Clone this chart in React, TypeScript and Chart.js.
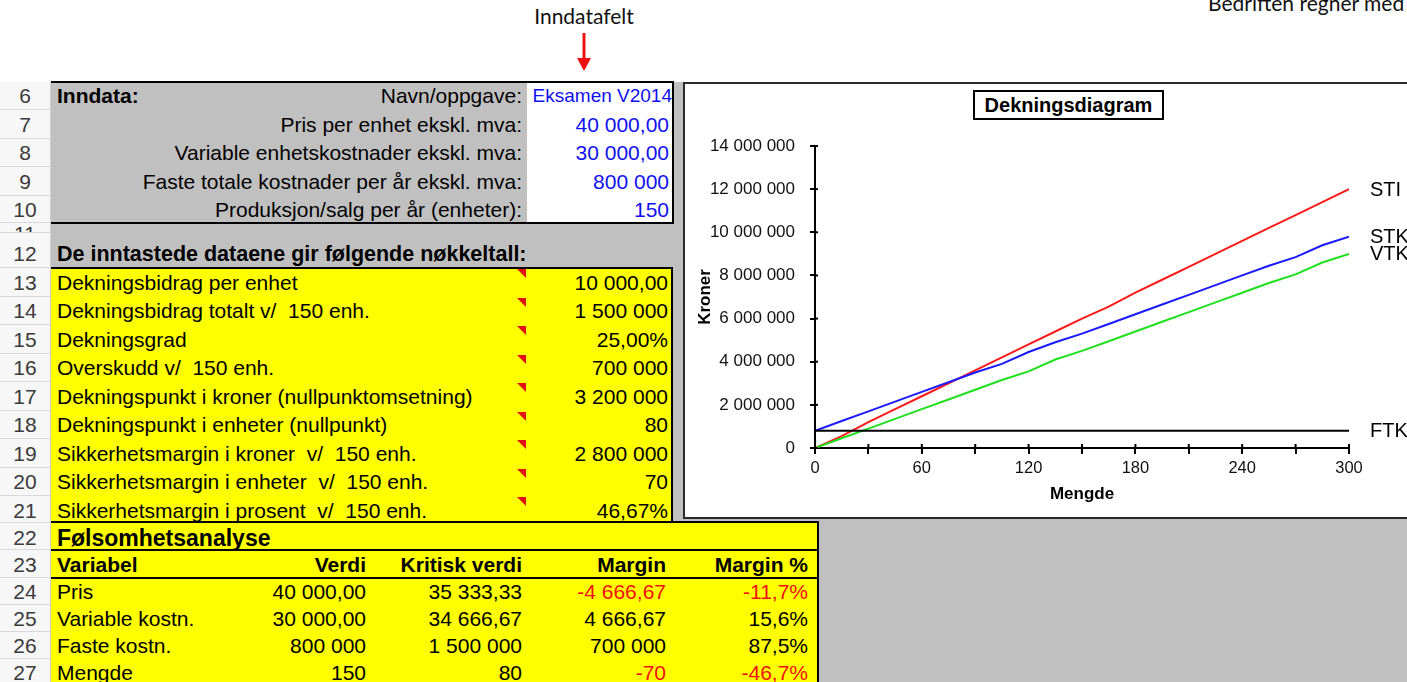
import React, { useEffect, useRef } from 'react';
import { Chart, registerables } from 'chart.js';

Chart.register(...registerables);

// ---------- Chart data ----------
const mengde = [0, 15, 30, 45, 60, 75, 90, 105, 120, 135, 150, 165, 180, 195, 210, 225, 240, 255, 270, 285, 300];
const sti = [0, 550000, 1200000, 1800000, 2400000, 3000000, 3600000, 4200000, 4800000, 5400000, 6000000, 6550000, 7200000, 7800000, 8400000, 9000000, 9600000, 10200000, 10800000, 11400000, 12000000];
const stk = [800000, 1250000, 1700000, 2150000, 2600000, 3050000, 3500000, 3900000, 4450000, 4900000, 5300000, 5750000, 6200000, 6650000, 7100000, 7550000, 8000000, 8450000, 8850000, 9400000, 9800000];
const vtk = [0, 450000, 900000, 1350000, 1800000, 2250000, 2700000, 3150000, 3550000, 4100000, 4500000, 4950000, 5400000, 5850000, 6300000, 6750000, 7200000, 7650000, 8050000, 8600000, 9000000];
const ftkMengde = [0, 300];
const ftk = [800000, 800000];
const seriesNames = ['FTK', 'VTK', 'STK', 'STI'];
const seriesColors = ['#000000', '#1fe01f', '#1a1aff', '#ff1a1a'];
const chartTitle = 'Dekningsdiagram';
const xTitle = 'Mengde';
const yTitle = 'Kroner';
const xMin = 0, xMax = 300, xStep = 30, xLabelEvery = 60;
const yMin = 0, yMax = 14000000, yStep = 2000000;

// ---------- Spreadsheet data ----------
const inputLabels = ['Navn/oppgave:', 'Pris per enhet ekskl. mva:', 'Variable enhetskostnader ekskl. mva:', 'Faste totale kostnader per år ekskl. mva:', 'Produksjon/salg per år (enheter):'];
const inputValues = ['Eksamen V2014', '40 000,00', '30 000,00', '800 000', '150'];
const keyHeading = 'De inntastede dataene gir følgende nøkkeltall:';
const keyLabels = ['Dekningsbidrag per enhet', 'Dekningsbidrag totalt v/  150 enh.', 'Dekningsgrad', 'Overskudd v/  150 enh.', 'Dekningspunkt i kroner (nullpunktomsetning)', 'Dekningspunkt i enheter (nullpunkt)', 'Sikkerhetsmargin i kroner  v/  150 enh.', 'Sikkerhetsmargin i enheter  v/  150 enh.', 'Sikkerhetsmargin i prosent  v/  150 enh.'];
const keyValues = ['10 000,00', '1 500 000', '25,00%', '700 000', '3 200 000', '80', '2 800 000', '70', '46,67%'];
const sensTitle = 'Følsomhetsanalyse';
const sensHeaders = ['Variabel', 'Verdi', 'Kritisk verdi', 'Margin', 'Margin %'];
const sensRows = [
  ['Pris', '40 000,00', '35 333,33', '-4 666,67', '-11,7%'],
  ['Variable kostn.', '30 000,00', '34 666,67', '4 666,67', '15,6%'],
  ['Faste kostn.', '800 000', '1 500 000', '700 000', '87,5%'],
  ['Mengde', '150', '80', '-70', '-46,7%'],
];
const rowNumbers = [6, 7, 8, 9, 10, 11, 12, 13, 14, 15, 16, 17, 18, 19, 20, 21, 22, 23, 24, 25, 26, 27];

const FONT = "'Liberation Sans', Arial, Helvetica, sans-serif";
const CAL = "Lato, 'Open Sans', sans-serif";

// layout geometry (positions only)
const rowGeom: Record<number, [number, number, number]> = {
  6: [82, 110, 96], 7: [110, 139, 125], 8: [139, 167, 153], 9: [167, 196, 182], 10: [196, 223, 210],
  11: [223, 233, 234], 12: [233, 268, 254], 13: [268, 297, 283], 14: [297, 325, 311], 15: [325, 354, 340],
  16: [354, 382, 368], 17: [382, 411, 397], 18: [411, 439, 425], 19: [439, 468, 454], 20: [468, 496, 482],
  21: [496, 523, 511], 22: [523, 550, 538], 23: [550, 578, 565], 24: [578, 605, 592], 25: [605, 632, 619],
  26: [632, 659, 646], 27: [659, 686, 673],
};

function fmtThousands(v: number): string {
  return String(Math.round(v)).replace(/\B(?=(\d{3})+(?!\d))/g, ' ');
}

type TextProps = { c: number; left?: number; right?: number; w?: number; bold?: boolean; color?: string; size?: number; children: React.ReactNode };
function T({ c, left, right, w = 500, bold, color = '#000', size = 21, children }: TextProps) {
  const style: React.CSSProperties = {
    position: 'absolute', top: c - 15, height: 30, lineHeight: '30px', whiteSpace: 'pre',
    fontFamily: FONT, fontSize: size, fontWeight: bold ? 'bold' : 'normal', color, width: w,
  };
  if (right !== undefined) { style.left = right - w; style.textAlign = 'right'; }
  else { style.left = left; style.textAlign = 'left'; }
  return <div style={style}>{children}</div>;
}

function Box({ x, y, w, h, bg, style }: { x: number; y: number; w: number; h: number; bg?: string; style?: React.CSSProperties }) {
  return <div style={{ position: 'absolute', left: x, top: y, width: w, height: h, background: bg, boxSizing: 'border-box', ...style }} />;
}

function DekningsChart() {
  const ref = useRef<HTMLCanvasElement | null>(null);
  useEffect(() => {
    if (!ref.current) return;
    const pts = (xs: number[], ys: number[]) => xs.map((x, i) => ({ x, y: ys[i] }));
    const seriesData = [pts(ftkMengde, ftk), pts(mengde, vtk), pts(mengde, stk), pts(mengde, sti)];
    const endLabels = {
      id: 'endLabels',
      afterDatasetsDraw(chart: any) {
        const ctx = chart.ctx;
        ctx.save();
        ctx.font = `20px ${FONT}`;
        ctx.fillStyle = '#000';
        ctx.textBaseline = 'middle';
        ctx.textAlign = 'left';
        chart.data.datasets.forEach((ds: any, i: number) => {
          const meta = chart.getDatasetMeta(i);
          const p = meta.data[meta.data.length - 1];
          if (p) ctx.fillText(ds.label, p.x + 21, p.y + 1);
        });
        ctx.restore();
      },
    };
    const crossTicks = {
      id: 'crossTicks',
      afterDraw(chart: any) {
        const { ctx } = chart;
        const xs = chart.scales.x, ys = chart.scales.y;
        ctx.save();
        ctx.strokeStyle = '#000';
        ctx.lineWidth = 2;
        xs.ticks.forEach((t: any) => {
          const px = xs.getPixelForValue(t.value);
          ctx.beginPath(); ctx.moveTo(px, ys.bottom); ctx.lineTo(px, ys.bottom - 4); ctx.stroke();
        });
        ys.ticks.forEach((t: any) => {
          const py = ys.getPixelForValue(t.value);
          ctx.beginPath(); ctx.moveTo(xs.left, py); ctx.lineTo(xs.left + 3, py); ctx.stroke();
        });
        ctx.restore();
      },
    };
    const chart = new Chart(ref.current, {
      type: 'line',
      data: {
        datasets: seriesData.map((d, i) => ({
          label: seriesNames[i], data: d, borderColor: seriesColors[i], backgroundColor: seriesColors[i],
          borderWidth: 2, pointRadius: 0, tension: 0, fill: false,
        })),
      },
      options: {
        animation: false, responsive: false, maintainAspectRatio: false, events: [],
        layout: { padding: { top: 62, right: 76, bottom: 0, left: 0 } },
        plugins: { legend: { display: false }, tooltip: { enabled: false }, title: { display: false } },
        scales: {
          x: {
            type: 'linear', min: xMin, max: xMax,
            ticks: {
              stepSize: xStep, autoSkip: false, maxRotation: 0, padding: 5, color: '#111',
              font: { size: 16.5, family: FONT },
              callback: (v: any) => (Number(v) % xLabelEvery === 0 ? String(v) : ''),
            },
            grid: { drawOnChartArea: false, drawTicks: true, tickLength: 6, color: '#000', lineWidth: 2 },
            border: { display: true, color: '#000', width: 2 },
            title: { display: true, text: xTitle, color: '#000', font: { size: 17, weight: 'bold', family: FONT }, padding: { top: 0, bottom: 11 } },
            afterFit: (s: any) => { s.height = 68; },
          },
          y: {
            type: 'linear', min: yMin, max: yMax,
            ticks: {
              stepSize: yStep, autoSkip: false, padding: 15, color: '#111',
              font: { size: 17, family: FONT },
              callback: (v: any) => fmtThousands(Number(v)),
            },
            grid: { drawOnChartArea: false, drawTicks: true, tickLength: 5, color: '#000', lineWidth: 2 },
            border: { display: true, color: '#000', width: 2 },
            title: { display: true, text: yTitle, color: '#000', font: { size: 17, weight: 'bold', family: FONT }, padding: { top: 10, bottom: 0 } },
            afterFit: (s: any) => { s.width = 130; },
          },
        },
      } as any,
      plugins: [endLabels, crossTicks],
    });
    return () => chart.destroy();
  }, []);
  return <canvas ref={ref} width={740} height={432} style={{ position: 'absolute', left: 0, top: 0, width: 740, height: 432 }} />;
}

export default function App() {
  const keyRows = [13, 14, 15, 16, 17, 18, 19, 20, 21];
  const inRows = [6, 7, 8, 9, 10];
  const sRows = [24, 25, 26, 27];
  const sRights = [0, 366, 522, 666, 808];
  const RED = '#f01010';
  return (
    <div style={{ position: 'fixed', left: 0, top: 0, width: 1407, height: 682, overflow: 'hidden', background: '#fff', fontFamily: FONT }}>
      {/* top notes */}
      <div style={{ position: 'absolute', left: 484, top: 3, width: 200, textAlign: 'center', fontFamily: CAL, fontSize: 21, color: '#111' }}>Inndatafelt</div>
      <svg style={{ position: 'absolute', left: 574, top: 30 }} width={20} height={44}>
        <line x1={10} y1={3} x2={10} y2={30} stroke="#ee1111" strokeWidth={3} />
        <polygon points="3,28 17,28 10,41" fill="#ee1111" />
      </svg>
      <div style={{ position: 'absolute', left: 1208, top: -10, whiteSpace: 'nowrap', fontFamily: CAL, fontSize: 21, color: '#111' }}>Bedriften regner med</div>

      {/* grey sheet background */}
      <Box x={51} y={82} w={1356} h={600} bg="#c0c0c0" />

      {/* row headers */}
      {rowNumbers.map((r) => {
        const [t, b, c] = rowGeom[r];
        return (
          <div key={r} style={{ position: 'absolute', left: 0, top: t, width: 51, height: b - t, overflow: 'hidden', background: '#f7f7f7', borderBottom: '1px solid #d9d9d9', borderRight: '1px solid #d0d0d0', boxSizing: 'border-box' }}>
            <div style={{ position: 'absolute', left: 0, width: 50, top: c - t - 15, height: 30, lineHeight: '30px', textAlign: 'center', fontSize: 21, color: '#3a3a3a' }}>{r}</div>
          </div>
        );
      })}

      {/* Inndata block */}
      <Box x={527} y={83} w={145} h={139} bg="#fff" />
      <Box x={51} y={81} w={623} h={143} style={{ borderTop: '2px solid #000', borderBottom: '2px solid #000', borderRight: '2px solid #000' }} />
      <T c={rowGeom[6][2]} left={57} bold>Inndata:</T>
      {inRows.map((r, i) => (
        <React.Fragment key={r}>
          <T c={rowGeom[r][2]} right={522}>{inputLabels[i]}</T>
          <T c={rowGeom[r][2]} right={i === 0 ? 672 : 669} color="#1010f0" size={i === 0 ? 19 : 21}>{inputValues[i]}</T>
        </React.Fragment>
      ))}

      {/* key figures */}
      <T c={rowGeom[12][2]} left={57} bold size={21.5}>{keyHeading}</T>
      <Box x={51} y={267} w={622} h={256} bg="#ffff00" style={{ borderTop: '2px solid #000', borderRight: '2px solid #000' }} />
      {keyRows.map((r, i) => (
        <React.Fragment key={r}>
          <T c={rowGeom[r][2]} left={57}>{keyLabels[i]}</T>
          <T c={rowGeom[r][2]} right={668}>{keyValues[i]}</T>
          <svg style={{ position: 'absolute', left: 517, top: rowGeom[r][0] + 1 }} width={10} height={10}>
            <polygon points="0,0 9,0 9,9" fill="#e01010" />
          </svg>
        </React.Fragment>
      ))}

      {/* sensitivity table */}
      <Box x={51} y={521} w={768} h={170} bg="#ffff00" style={{ borderTop: '2px solid #000', borderRight: '2px solid #000' }} />
      <Box x={51} y={549} w={767} h={2} bg="#000" />
      <Box x={51} y={577} w={767} h={2} bg="#000" />
      <T c={rowGeom[22][2]} left={57} bold size={23}>{sensTitle}</T>
      {sensHeaders.map((h, j) => (
        j === 0
          ? <T key={h} c={rowGeom[23][2]} left={57} bold size={21}>{h}</T>
          : <T key={h} c={rowGeom[23][2]} right={sRights[j]} bold size={21}>{h}</T>
      ))}
      {sRows.map((r, i) => sensRows[i].map((v, j) => {
        const neg = v.startsWith('-');
        return j === 0
          ? <T key={`${r}-${j}`} c={rowGeom[r][2]} left={57}>{v}</T>
          : <T key={`${r}-${j}`} c={rowGeom[r][2]} right={sRights[j]} color={neg ? RED : '#000'}>{v}</T>;
      }))}

      {/* chart box */}
      <div style={{ position: 'absolute', left: 683, top: 82, width: 760, height: 437, background: '#fff', border: '2px solid #2a2a2a', boxSizing: 'border-box' }}>
        <DekningsChart />
      </div>
      <div style={{ position: 'absolute', left: 973, top: 90, width: 191, height: 30, border: '2px solid #000', boxSizing: 'border-box', background: '#fff', textAlign: 'center', lineHeight: '26px', fontSize: 20, fontWeight: 'bold', fontFamily: FONT }}>{chartTitle}</div>
    </div>
  );
}
